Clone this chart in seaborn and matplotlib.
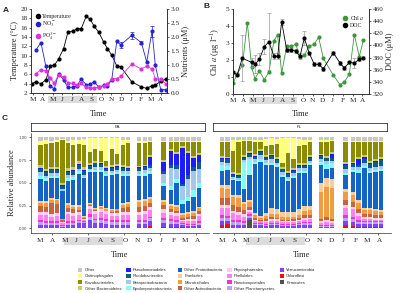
import pandas as pd
import matplotlib
matplotlib.use("Agg")
import matplotlib.pyplot as plt
import matplotlib.transforms as mtransforms
from matplotlib.patches import Rectangle, Patch
from matplotlib.lines import Line2D
import seaborn as sns

sns.set_style("ticks")
plt.rcParams["font.family"] = ["Liberation Serif", "DejaVu Serif"]
plt.rcParams["mathtext.fontset"] = "stix"
plt.rcParams["axes.linewidth"] = 0.5
plt.rcParams["xtick.major.width"] = 0.5
plt.rcParams["ytick.major.width"] = 0.5
plt.rcParams["xtick.major.size"] = 1.5
plt.rcParams["ytick.major.size"] = 1.5
plt.rcParams["xtick.major.pad"] = 1.5
plt.rcParams["ytick.major.pad"] = 1.0

months = ["M", "A", "M", "J", "J", "A", "S", "O", "N", "D", "J", "F", "M", "A"]

# ---- panel A: temperature and nutrients
temp_month = [-0.10, 0.31, 0.81, 1.32, 1.76, 2.17, 2.61, 3.12, 3.56, 4.07, 4.47, 4.92, 5.42, 5.83,
              6.24, 6.71, 7.19, 7.59, 8.03, 8.54, 8.95, 10.07, 11.05, 11.59, 12.14, 12.47, 13.02, 13.53]
temperature = [4.0, 4.4, 4.0, 4.8, 7.8, 7.9, 9.3, 11.5, 15.0, 15.3, 15.7, 15.8, 18.4, 17.8,
               16.3, 15.0, 13.0, 11.5, 10.1, 7.8, 7.6, 4.4, 3.3, 3.0, 3.6, 3.7, 4.5, 5.0]
nut_month = temp_month[1:]
no3 = [1.54, 1.80, 0.95, 0.25, 0.15, 0.69, 0.47, 0.20, 0.20, 0.26, 0.49, 0.30, 0.32, 0.40,
       0.21, 0.27, 0.26, 0.47, 1.85, 1.72, 2.06, 1.80, 1.11, 2.20, 0.99, 0.12, 0.12]
no3_err = [0, 0, 0, 0, 0, 0, 0, 0, 0, 0, 0, 0, 0, 0,
           0, 0, 0, 0, 0, 0.10, 0.12, 0.05, 0, 0.20, 0, 0, 0]
po4 = [0.69, 0.83, 0.79, 0.53, 0.35, 0.65, 0.57, 0.35, 0.35, 0.28, 0.35, 0.20, 0.18, 0.18,
       0.21, 0.26, 0.33, 0.51, 0.51, 0.60, 1.03, 0.86, 0.96, 0.86, 0.50, 0.50, 0.33]

# ---- panel B: chlorophyll a and DOC
chl_month = [0.00, 0.40, 0.91, 1.41, 1.85, 2.18, 2.62, 3.12, 3.59, 4.09, 4.46, 4.87, 5.37, 5.81,
             6.28, 6.71, 7.15, 7.65, 8.15, 8.59, 9.06, 10.07, 10.74, 11.17, 11.68, 12.18, 12.68, 13.09]
chl = [0.66, 1.20, 1.68, 4.20, 1.56, 0.90, 1.37, 0.84, 1.30, 3.13, 3.50, 1.23, 2.83, 2.80,
       2.93, 2.20, 2.27, 2.83, 2.93, 3.34, 2.10, 1.10, 0.55, 0.70, 1.17, 3.50, 2.20, 3.15]
doc_month = [0.00, 0.40, 0.91, 1.85, 2.18, 2.62, 3.12, 3.59, 4.09, 4.46, 4.87, 5.37, 5.81,
             6.28, 6.71, 7.15, 7.65, 8.15, 8.59, 9.06, 10.07, 10.74, 11.17, 11.68, 12.18, 12.68, 13.09]
doc = [355.5, 352, 379, 372, 369, 377, 398, 406, 382, 382, 439, 393, 393,
       390.5, 382, 412, 387, 369, 369, 361.5, 388, 371, 363, 372, 371, 377, 380]
doc_err = [3, 3, 38, 8, 15, 10, 12, 47, 5, 5, 5, 3, 3,
           3, 5, 12, 3, 3, 3, 3, 3, 3, 3, 3, 8, 3, 3]

# ---- panel C: relative abundance per order
taxa = ["Other", "Chitinophagales", "Flavobacteriales", "Other Bacteroidetes",
        "Pseudomonadales", "Rhodobacterales", "Betaproteobacteria", "Epsilonproteobacteria",
        "Other Proteobacteria", "Frankiales", "Microtrichales", "Other Actinobacteria",
        "Phycisphaerales", "Pirellulales", "Planctomycetales", "Other Planctomycetes",
        "Verrucomicrobia", "Chloroflexi", "Firmicutes"]
taxa_colors = ["#c8c8c8", "#ffff80", "#8c8c00", "#cccc66",
               "#1c1cff", "#0d5a8c", "#a3c8f0", "#80ffff",
               "#1464c8", "#ffcc99", "#f29b45", "#c8643c",
               "#ffccf0", "#ff80f0", "#ee33d0", "#c0a0ff",
               "#8040ff", "#ee1111", "#505050"]
sample_slot = [0, 1, 2, 3, 4, 5, 6, 7, 8, 9, 10, 11, 12, 13, 14, 15, 16,
               18, 19, 20, 22.4, 23.8, 24.8, 25.9, 26.9, 27.9, 28.9]

pa_other = [4, 3, 4, 3, 2, 4, 3, 3, 2, 1, 1, 1, 1, 1, 1, 3, 3, 4, 4, 4, 4, 4, 4, 4, 4, 4, 4]
pa_chitino = [5, 4, 2, 2, 1, 3, 5, 4, 7, 15, 12, 14, 26, 12, 17, 5, 3, 2, 2, 1, 1, 1, 1, 1, 1, 1, 1]
pa_flavo = [22, 28, 27, 28, 48, 28, 25, 20, 25, 13, 13, 12, 5, 18, 12, 22, 25, 25, 24, 15, 20, 8, 12, 5, 10, 15, 12]
pa_othbact = [3, 3, 2, 2, 2, 3, 3, 3, 3, 2, 2, 2, 2, 2, 2, 3, 2, 2, 2, 2, 2, 2, 2, 2, 2, 2, 2]
pa_pseudo = [1, 1, 1, 1, 1, 1, 1, 1, 1, 1, 1, 1, 1, 1, 1, 1, 1, 1, 1, 8, 10, 15, 12, 40, 25, 10, 8]
pa_rhodo = [4, 4, 4, 4, 3, 4, 4, 4, 5, 3, 4, 3, 3, 3, 3, 3, 3, 3, 3, 4, 3, 4, 4, 3, 4, 5, 8]
pa_beta = [4, 3, 3, 3, 2, 3, 3, 3, 2, 2, 3, 3, 3, 3, 3, 3, 3, 3, 3, 3, 10, 20, 12, 15, 20, 20, 15]
pa_epsilon = [4, 3, 3, 2, 1, 3, 3, 3, 2, 2, 2, 2, 2, 2, 2, 2, 2, 3, 3, 3, 3, 4, 4, 5, 5, 8, 6]
pa_othprot = [24, 22, 22, 23, 30, 25, 27, 35, 43, 35, 40, 38, 36, 38, 38, 30, 28, 26, 26, 26, 15, 15, 25, 10, 12, 15, 20]
pa_frank = [2, 2, 2, 2, 1, 2, 2, 2, 1, 1, 1, 1, 1, 1, 1, 2, 2, 2, 2, 2, 2, 2, 2, 2, 2, 2, 2]
pa_microtr = [4, 5, 4, 4, 1, 4, 3, 3, 1, 1, 2, 2, 2, 2, 2, 4, 4, 5, 5, 4, 4, 4, 4, 3, 3, 4, 3]
pa_othact = [7, 6, 12, 10, 2, 4, 4, 3, 1, 1, 1, 1, 1, 1, 2, 4, 5, 6, 6, 5, 4, 3, 3, 2, 3, 3, 3]
pa_phycis = [3, 3, 3, 3, 1, 3, 3, 3, 1, 3, 3, 3, 3, 3, 3, 3, 3, 3, 3, 3, 4, 3, 3, 2, 2, 2, 2]
pa_pirell = [6, 7, 5, 6, 2, 8, 6, 5, 2, 6, 5, 6, 5, 5, 5, 6, 6, 6, 7, 7, 6, 5, 5, 2, 3, 3, 6]
pa_plancto = [2, 2, 2, 2, 1, 2, 2, 2, 1, 3, 2, 3, 3, 2, 2, 2, 2, 2, 2, 2, 2, 2, 2, 1, 1, 1, 2]
pa_othplanc = [3, 2, 2, 2, 1, 2, 2, 2, 1, 3, 3, 3, 3, 3, 3, 3, 3, 2, 2, 3, 3, 3, 2, 1, 1, 1, 2]
pa_verruco = [3, 3, 3, 3, 2, 3, 3, 5, 6, 10, 6, 6, 5, 4, 4, 4, 4, 4, 4, 5, 4, 3, 3, 2, 2, 2, 3]
pa_chloro = [0, 0, 0, 0, 0, 0, 0, 0, 0, 0, 0, 0, 0, 0, 0, 0, 0, 0, 0, 2, 1, 1, 1, 1, 0, 0, 0]
pa_firmic = [1, 1, 1, 1, 0, 1, 1, 1, 0, 0, 0, 0, 0, 0, 0, 0, 0, 1, 1, 1, 1, 1, 1, 1, 1, 1, 1]

fl_other = [4, 4, 3, 3, 3, 3, 3, 3, 2, 1, 2, 1, 1, 1, 2, 3, 3, 3, 3, 3, 4, 4, 4, 4, 4, 4, 4]
fl_chitino = [1, 1, 12, 2, 1, 1, 2, 2, 8, 7, 5, 28, 17, 23, 8, 6, 2, 2, 2, 1, 1, 1, 1, 1, 1, 1, 1]
fl_flavo = [15, 16, 22, 35, 16, 12, 14, 9, 9, 10, 15, 4, 20, 10, 18, 20, 15, 13, 15, 12, 22, 22, 17, 15, 22, 20, 18]
fl_othbact = [2, 2, 2, 2, 2, 2, 2, 2, 2, 2, 2, 2, 2, 2, 2, 2, 2, 2, 2, 2, 2, 2, 2, 2, 2, 2, 2]
fl_pseudo = [1, 1, 1, 1, 1, 1, 1, 1, 1, 1, 1, 1, 1, 1, 1, 1, 1, 1, 1, 5, 1, 1, 6, 2, 1, 1, 1]
fl_rhodo = [4, 4, 2, 2, 2, 3, 3, 4, 3, 3, 3, 3, 3, 3, 3, 3, 3, 3, 3, 3, 4, 3, 3, 5, 5, 6, 7]
fl_beta = [3, 3, 2, 2, 3, 3, 3, 4, 3, 4, 3, 3, 3, 3, 3, 3, 3, 3, 3, 3, 4, 3, 3, 3, 3, 3, 3]
fl_epsilon = [6, 5, 1, 1, 30, 18, 3, 3, 2, 2, 2, 2, 2, 2, 2, 2, 2, 3, 5, 5, 3, 3, 3, 3, 3, 3, 3]
fl_othprot = [15, 16, 16, 16, 14, 28, 55, 63, 52, 48, 46, 40, 35, 38, 40, 38, 45, 20, 10, 12, 15, 22, 30, 45, 40, 42, 45]
fl_frank = [4, 4, 3, 3, 3, 3, 3, 2, 4, 6, 6, 5, 5, 5, 6, 5, 5, 10, 10, 10, 3, 3, 3, 2, 2, 2, 2]
fl_microtr = [10, 10, 8, 10, 6, 6, 3, 2, 3, 4, 4, 3, 3, 3, 4, 5, 5, 30, 33, 35, 8, 8, 7, 5, 5, 5, 4]
fl_othact = [8, 8, 6, 6, 5, 3, 2, 1, 2, 2, 2, 2, 2, 2, 2, 3, 3, 2, 3, 2, 6, 5, 4, 3, 3, 3, 3]
fl_phycis = [3, 3, 3, 3, 3, 2, 2, 1, 1, 2, 2, 1, 1, 1, 1, 2, 2, 2, 2, 2, 3, 3, 3, 2, 2, 2, 2]
fl_pirell = [8, 8, 7, 6, 5, 3, 2, 2, 2, 2, 2, 2, 2, 2, 2, 3, 3, 2, 3, 2, 8, 8, 5, 3, 3, 2, 2]
fl_plancto = [3, 3, 2, 2, 2, 2, 1, 1, 1, 1, 1, 1, 1, 1, 1, 1, 1, 1, 1, 1, 3, 3, 2, 1, 1, 1, 1]
fl_othplanc = [3, 3, 3, 3, 2, 2, 1, 1, 1, 1, 1, 1, 1, 1, 1, 2, 2, 1, 1, 1, 3, 3, 2, 2, 2, 2, 2]
fl_verruco = [4, 3, 3, 3, 3, 2, 3, 3, 3, 4, 4, 3, 3, 3, 4, 4, 4, 2, 2, 2, 4, 4, 3, 3, 3, 3, 3]
fl_chloro = [3, 4, 0, 0, 0, 0, 0, 0, 0, 0, 0, 0, 0, 0, 0, 0, 0, 0, 0, 0, 3, 2, 1, 0, 0, 0, 0]
fl_firmic = [1, 1, 1, 1, 1, 10, 1, 1, 0, 0, 0, 0, 0, 0, 0, 0, 0, 0, 0, 0, 1, 1, 1, 2, 2, 2, 2]

pa_values = [pa_other, pa_chitino, pa_flavo, pa_othbact, pa_pseudo, pa_rhodo, pa_beta, pa_epsilon,
             pa_othprot, pa_frank, pa_microtr, pa_othact, pa_phycis, pa_pirell, pa_plancto,
             pa_othplanc, pa_verruco, pa_chloro, pa_firmic]
fl_values = [fl_other, fl_chitino, fl_flavo, fl_othbact, fl_pseudo, fl_rhodo, fl_beta, fl_epsilon,
             fl_othprot, fl_frank, fl_microtr, fl_othact, fl_phycis, fl_pirell, fl_plancto,
             fl_othplanc, fl_verruco, fl_chloro, fl_firmic]

W, H = 400, 293
fig = plt.figure(figsize=(W / 100, H / 100), dpi=100)


def box(l, t, r, b):
    return [l / W, 1 - b / H, (r - l) / W, (b - t) / H]


def month_band(ax, x0, x1, y0=-0.12, h=0.085):
    tr = mtransforms.blended_transform_factory(ax.transData, ax.transAxes)
    ax.add_patch(Rectangle((x0, y0), x1 - x0, h, transform=tr, clip_on=False,
                           facecolor="#dcdcdc", edgecolor="none", zorder=0))


tick_fs = 5.2
lab_fs = 6
ms = 3.0

# ---------------- panel A
axA = fig.add_axes(box(31, 9, 167, 93))
sns.lineplot(x=temp_month, y=temperature, ax=axA, color="black", lw=0.6,
             marker="o", ms=ms, mew=0)
axA.set_ylim(2, 20)
axA.set_yticks(range(2, 21, 2))
axA.set_xlim(-0.2, 13.66)
axA.set_xticks(range(14))
axA.set_xticklabels(months)
axA.tick_params(labelsize=tick_fs)
axA.set_ylabel("Temperature (°C)", fontsize=lab_fs, labelpad=1)
axA.spines["top"].set_visible(False)
month_band(axA, 1.56, 6.54)

axA2 = axA.twinx()
sns.lineplot(x=nut_month, y=no3, ax=axA2, color="#2424cc", lw=0.6, marker="o", ms=ms, mew=0)
err_x = [m for m, e in zip(nut_month, no3_err) if e > 0]
err_y = [v for v, e in zip(no3, no3_err) if e > 0]
err_e = [e for e in no3_err if e > 0]
axA2.errorbar(err_x, err_y, yerr=err_e, fmt="none", ecolor="#2424cc", elinewidth=0.5, capsize=1.2, capthick=0.5)
sns.lineplot(x=nut_month, y=po4, ax=axA2, color="#e02ee0", lw=0.6, marker="o", ms=ms, mew=0)
axA2.set_ylim(0, 3.0)
axA2.set_yticks([0, 0.5, 1.0, 1.5, 2.0, 2.5, 3.0])
axA2.set_yticklabels(["0.0", "0.5", "1.0", "1.5", "2.0", "2.5", "3.0"])
axA2.tick_params(labelsize=tick_fs)
axA2.set_ylabel("Nutrients (μM)", fontsize=lab_fs, labelpad=2)
axA2.spines["top"].set_visible(False)
axA2.legend(handles=[Line2D([], [], ls="none", marker="o", ms=3, color=c, label=l)
                     for c, l in [("black", "Temperature"), ("#2424cc", r"NO$_3^-$"), ("#e02ee0", r"PO$_4^{3-}$")]],
            loc="upper left", bbox_to_anchor=(0.0, 1.0), frameon=False, fontsize=4.2,
            handlelength=0.8, handletextpad=0.3, labelspacing=0.15, borderpad=0.3)
fig.text(99 / W, 1 - 114 / H, "Time", fontsize=lab_fs, ha="center", va="center")

# ---------------- panel B
axB = fig.add_axes(box(233, 9, 369, 94))
sns.lineplot(x=chl_month, y=chl, ax=axB, color="#3c963c", lw=0.6, marker="o", ms=ms, mew=0)
axB.set_ylim(0, 5)
axB.set_xlim(-0.03, 13.66)
axB.set_xticks(range(14))
axB.set_xticklabels(months)
axB.tick_params(labelsize=tick_fs)
axB.set_ylabel(r"Chl $\it{a}$ (μg l$^{-1}$)", fontsize=lab_fs, labelpad=2)
axB.spines["top"].set_visible(False)
month_band(axB, 1.58, 6.4)

axB2 = axB.twinx()
axB2.errorbar(doc_month, doc, yerr=doc_err, fmt="none", ecolor="#9a9a9a", elinewidth=0.5, capsize=1.2, capthick=0.5)
sns.lineplot(x=doc_month, y=doc, ax=axB2, color="black", lw=0.6, marker="o", ms=ms, mew=0)
axB2.set_ylim(320, 460)
axB2.set_yticks(range(320, 461, 20))
axB2.tick_params(labelsize=tick_fs)
axB2.set_ylabel("DOC (μM)", fontsize=lab_fs, labelpad=2)
axB2.spines["top"].set_visible(False)
axB2.legend(handles=[Line2D([], [], ls="none", marker="o", ms=3, color=c, label=l)
                     for c, l in [("#3c963c", r"Chl $\it{a}$"), ("black", "DOC")]],
            loc="upper right", bbox_to_anchor=(1.0, 1.0), frameon=False, fontsize=4.2,
            handlelength=0.8, handletextpad=0.3, labelspacing=0.15, borderpad=0.3)
fig.text(301 / W, 1 - 114 / H, "Time", fontsize=lab_fs, ha="center", va="center")

# ---------------- panel C
palette = dict(zip(taxa, taxa_colors))
c_ticks = [2.1, 8.7, 15.2, 21.8, 28.4]
month_slot = [2.2 * i for i in range(14)]


def abundance_panel(left, right, values, name, first):
    ax = fig.add_axes(box(left, 132.7, right, 233))
    rows = []
    for i, slot in enumerate(sample_slot):
        total = sum(v[i] for v in values)
        for taxon, v in zip(taxa, values):
            rows.append({"slot": slot, "taxon": taxon, "share": v[i] / total})
    df = pd.DataFrame(rows)
    edges = sorted([s - 0.4 for s in sample_slot] + [s + 0.4 for s in sample_slot])
    sns.histplot(data=df, x="slot", weights="share", hue="taxon", hue_order=taxa,
                 palette=palette, multiple="stack", bins=edges, element="bars",
                 linewidth=0, alpha=1, legend=False, ax=ax)
    ax.set_xlim(-1.75, 30.6)
    ax.set_ylim(-0.05, 1.05)
    ax.set_xticks(c_ticks)
    ax.set_xticklabels([])
    ax.set_xlabel("")
    ax.spines["top"].set_visible(False)
    ax.spines["right"].set_visible(False)
    ax.spines["bottom"].set_color("#333333")
    ax.tick_params(axis="x", length=1.5, color="#333333")
    if first:
        ax.set_yticks([0, 0.25, 0.5, 0.75, 1.0])
        ax.set_yticklabels(["0.00", "0.25", "0.50", "0.75", "1.00"], family="Liberation Sans",
                           fontsize=3.2, color="#4d4d4d")
        ax.tick_params(axis="y", length=1.5, color="#333333", pad=1)
        ax.spines["left"].set_color("#333333")
        ax.set_ylabel("Relative abundance", fontsize=lab_fs, labelpad=2)
    else:
        ax.set_yticks([])
        ax.set_ylabel("")
        ax.spines["left"].set_visible(False)
    tr = mtransforms.blended_transform_factory(ax.transData, ax.transAxes)
    ax.add_patch(Rectangle((4.3, -0.12), 15.0 - 4.3, 0.083, transform=tr, clip_on=False,
                           facecolor="#dcdcdc", edgecolor="none", zorder=0))
    for m, lab in zip(month_slot, months):
        ax.text(m, -0.077, lab, transform=tr, fontsize=tick_fs, ha="center", va="center")
    ax.text(0.5, -0.22, "Time", transform=ax.transAxes, fontsize=lab_fs, ha="center", va="center")
    strip = fig.add_axes(box(left, 122.5, right - 4, 131))
    strip.set_xticks([])
    strip.set_yticks([])
    for s in strip.spines.values():
        s.set_linewidth(0.6)
        s.set_color("#333333")
    strip.text(0.5, 0.5, name, fontsize=3.2, family="Liberation Sans", ha="center", va="center",
               transform=strip.transAxes)
    return ax


axPA = abundance_panel(30.7, 208.5, pa_values, "PA", True)
axFL = abundance_panel(212.5, 390.5, fl_values, "FL", False)

fig.legend(handles=[Patch(facecolor=c, edgecolor="none", label=t) for t, c in zip(taxa, taxa_colors)],
           ncol=5, loc="upper left", bbox_to_anchor=(78 / W, 1 - 268 / H), frameon=False,
           prop={"family": "Liberation Sans", "size": 3}, handlelength=1.0, handleheight=1.0,
           handletextpad=0.6, columnspacing=1.2, labelspacing=0.45, borderpad=0, borderaxespad=0)

# panel letters
for x, y, t in [(6, 10, "A"), (207, 7, "B"), (5, 118, "C")]:
    fig.text(x / W, 1 - y / H, t, fontsize=6, fontweight="bold", family="Liberation Sans",
             ha="center", va="center")

fig.savefig("out.png", dpi=100)
